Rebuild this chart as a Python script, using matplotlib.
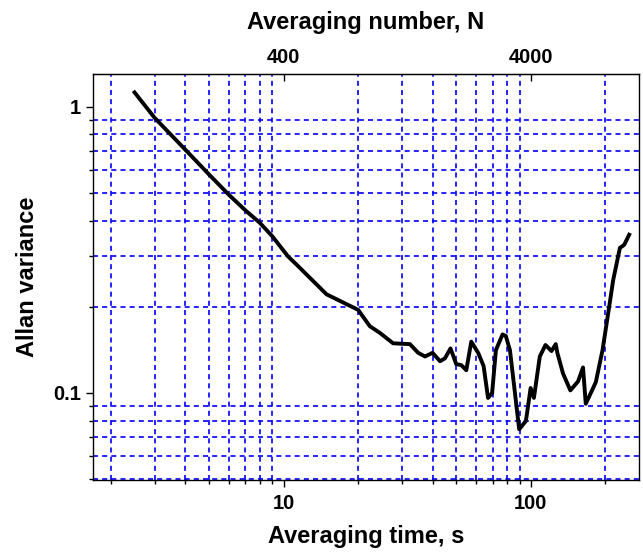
#!/usr/bin/env python
# -*- coding: utf-8 -*-

import numpy as np
import matplotlib
matplotlib.use("Agg")
import matplotlib.pyplot as plt
from matplotlib.ticker import LogLocator, FixedLocator, NullFormatter, FixedFormatter

# averaging time (s) and Allan variance
tau = [2.49, 3.0, 4.0, 5.0, 6.0, 7.0, 8.0, 9.0, 10.4, 11.3, 14.9, 20.0, 22.3,
       24.5, 27.7, 32.4, 35.0, 37.3, 40.0, 42.9, 44.9, 47.3, 49.9, 52.3, 54.8,
       57.4, 61.2, 64.4, 67.1, 69.7, 72.2, 76.8, 79.2, 82.3, 89.7, 95.5, 99.8,
       102.9, 108.7, 114.6, 121.2, 126.1, 128.0, 134.9, 144.5, 155.2, 162.6,
       166.8, 175.9, 183.2, 195.0, 207.5, 215.4, 229.3, 238.6, 250.0]
allan = [1.122, 0.915, 0.707, 0.578, 0.492, 0.434, 0.393, 0.352, 0.30, 0.28,
         0.221, 0.195, 0.171, 0.162, 0.149, 0.148, 0.138, 0.134, 0.138, 0.129,
         0.132, 0.143, 0.126, 0.125, 0.120, 0.151, 0.138, 0.124, 0.096, 0.0998,
         0.141, 0.160, 0.158, 0.141, 0.0746, 0.0798, 0.104, 0.096, 0.134, 0.147,
         0.140, 0.148, 0.138, 0.117, 0.102, 0.1096, 0.1227, 0.0916, 0.101,
         0.109, 0.141, 0.200, 0.248, 0.321, 0.329, 0.357]

n_per_second = 40          # N = 40 * tau
top_ticks = [400, 4000]
top_labels = ["400", "4000"]

plt.rcParams['font.family'] = ['Liberation Sans', 'DejaVu Sans']
plt.rcParams['font.weight'] = 'bold'

fig = plt.figure(figsize=(6.43, 5.53), dpi=100)
ax = fig.add_axes([0.1446, 0.132, 0.8492, 0.734])

ax.plot(tau, allan, color='black', lw=2.8, solid_joinstyle='round')

ax.set_xscale('log')
ax.set_yscale('log')
ax.set_xlim(1.69, 274)
ax.set_ylim(0.0496, 1.30)

ax.xaxis.set_major_locator(FixedLocator([10, 100]))
ax.xaxis.set_major_formatter(FixedFormatter(["10", "100"]))
ax.xaxis.set_minor_locator(LogLocator(base=10, subs=np.arange(2, 10)))
ax.xaxis.set_minor_formatter(NullFormatter())
ax.yaxis.set_major_locator(FixedLocator([0.1, 1]))
ax.yaxis.set_major_formatter(FixedFormatter(["0.1", "1"]))
ax.yaxis.set_minor_locator(LogLocator(base=10, subs=np.arange(2, 10)))
ax.yaxis.set_minor_formatter(NullFormatter())

# grid only on the minor ticks
ax.grid(which='minor', color='#0000ff', lw=1.2, linestyle=(0, (3, 2.5)))
ax.grid(which='major', visible=False)

ax.tick_params(which='major', direction='out', length=5, width=1.0,
               labelsize=14.5, top=False, right=False)
ax.tick_params(axis='x', which='major', pad=5)
ax.tick_params(which='minor', direction='out', length=3, width=1.0,
               top=False, right=False)
for sp in ax.spines.values():
    sp.set_linewidth(1.0)

ax.set_xlabel("Averaging time, s", fontsize=17, fontweight='bold', labelpad=9)
ax.set_ylabel("Allan variance", fontsize=17, fontweight='bold', labelpad=10)

secax = ax.secondary_xaxis('top', functions=(lambda t: t * n_per_second,
                                             lambda n: n / n_per_second))
secax.xaxis.set_major_locator(FixedLocator(top_ticks))
secax.xaxis.set_major_formatter(FixedFormatter(top_labels))
secax.xaxis.set_minor_locator(FixedLocator([]))
secax.tick_params(which='major', direction='in', length=5, width=1.0,
                  labelsize=14.5, pad=5)
secax.set_xlabel("Averaging number, N", fontsize=17, fontweight='bold', labelpad=14)

fig.savefig("out.png", dpi=100)
